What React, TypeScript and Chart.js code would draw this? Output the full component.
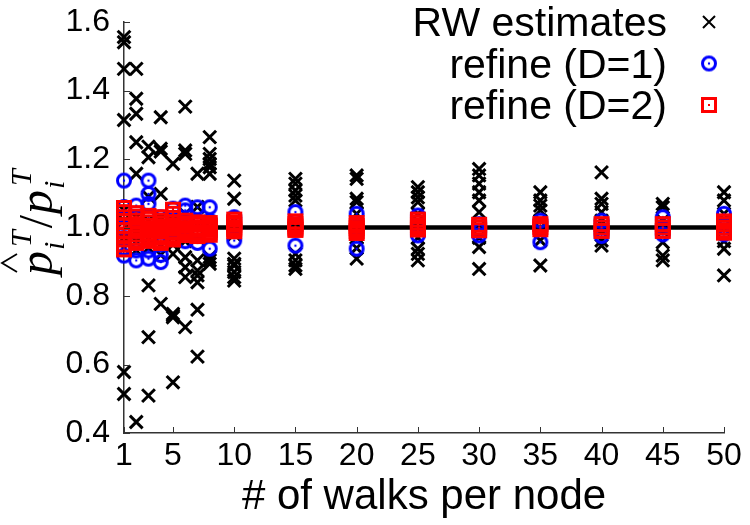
import { useEffect, useRef } from 'react';
import { Chart, registerables } from 'chart.js';

Chart.register(...registerables);

// Number of random walks started per node (x positions of the point columns)
const walksPerNode = [1, 2, 3, 4, 5, 6, 7, 8, 10, 15, 20, 25, 30, 35, 40, 45, 50];

// Ratio of estimated to true stationary probability, one list per column
const rwEstimates: number[][] = [
  [1.556, 1.541, 1.463, 1.314, 1.05, 1.02, 0.97, 0.94, 0.578, 0.514],
  [1.463, 1.376, 1.332, 1.249, 1.157, 1.03, 0.99, 0.96, 0.933, 0.432],
  [1.236, 1.205, 1.09, 1.02, 0.97, 0.94, 0.831, 0.68, 0.509],
  [1.322, 1.23, 1.222, 1.098, 1.03, 0.98, 0.95, 0.92, 0.777],
  [1.186, 1.02, 0.98, 0.95, 0.923, 0.748, 0.743, 0.738, 0.548],
  [1.353, 1.225, 1.215, 1.04, 0.99, 0.96, 0.913, 0.884, 0.855, 0.709],
  [1.157, 1.06, 1.01, 0.97, 0.904, 0.874, 0.86, 0.84, 0.76, 0.623],
  [1.264, 1.215, 1.2, 1.186, 1.176, 1.157, 1.0, 0.913, 0.904, 0.894],
  [1.137, 1.084, 1.02, 0.98, 0.909, 0.894, 0.889, 0.87, 0.855, 0.845],
  [1.142, 1.128, 1.108, 1.093, 1.079, 1.0, 0.923, 0.904, 0.889, 0.879],
  [1.152, 1.142, 1.084, 1.074, 1.04, 1.0, 0.97, 0.94, 0.909],
  [1.118, 1.103, 1.088, 1.074, 1.04, 1.0, 0.97, 0.938, 0.923, 0.904],
  [1.171, 1.152, 1.128, 1.103, 1.079, 1.045, 1.0, 0.97, 0.943, 0.879],
  [1.103, 1.079, 1.064, 1.05, 1.02, 0.99, 0.962, 0.889],
  [1.161, 1.084, 1.069, 1.045, 1.02, 0.99, 0.962, 0.947],
  [1.069, 1.059, 1.02, 0.99, 0.957, 0.918, 0.904],
  [1.103, 1.079, 1.04, 1.0, 0.96, 0.938, 0.86],
];

const refineD1: number[][] = [
  [1.137, 1.06, 1.03, 1.0, 0.97, 0.94, 0.918],
  [1.064, 1.03, 0.99, 0.96, 0.933, 0.904],
  [1.137, 1.098, 1.069, 1.03, 0.97, 0.933, 0.909],
  [1.03, 0.99, 0.95, 0.92, 0.899],
  [1.055, 1.02, 0.99, 0.967],
  [1.064, 1.05, 1.0, 0.96],
  [1.059, 1.02, 0.98, 0.955],
  [1.059, 1.02, 0.98, 0.938],
  [1.03, 1.0, 0.962],
  [1.045, 1.0, 0.947],
  [1.04, 1.0, 0.938],
  [1.035, 1.0, 0.977],
  [1.01, 0.99, 0.977],
  [1.02, 1.0, 0.957],
  [1.02, 0.99, 0.975],
  [1.03, 1.0, 0.98],
  [1.04, 1.0, 0.98],
];

const refineD2: number[][] = [
  [1.057, 1.045, 1.03, 1.018, 1.005, 0.992, 0.978, 0.965, 0.95, 0.936],
  [1.042, 1.032, 1.02, 1.01, 1.0, 0.99, 0.98, 0.97, 0.962, 0.955],
  [1.034, 1.025, 1.015, 1.005, 0.998, 0.99, 0.982, 0.975, 0.968, 0.961],
  [1.03, 1.02, 1.012, 1.004, 0.996, 0.988, 0.978, 0.97, 0.962, 0.955],
  [1.052, 1.04, 1.028, 1.016, 1.006, 0.996, 0.987, 0.978, 0.97, 0.965],
  [1.02, 1.012, 1.005, 0.998, 0.99, 0.984, 0.978],
  [1.015, 1.008, 1.0, 0.993, 0.986, 0.98, 0.975],
  [1.013, 1.006, 1.0, 0.993, 0.986, 0.979],
  [1.023, 1.015, 1.008, 1.0, 0.995, 0.989],
  [1.018, 1.01, 1.003, 0.997, 0.993],
  [1.013, 1.005, 0.998, 0.99, 0.984],
  [1.023, 1.015, 1.007, 1.0, 0.994],
  [1.008, 1.0, 0.992],
  [1.01, 1.002, 0.995],
  [1.01, 1.0, 0.99],
  [1.01, 1.0, 0.99],
  [1.018, 1.01, 1.0, 0.992, 0.985],
];

const xTickValues = [1, 5, 10, 15, 20, 25, 30, 35, 40, 45, 50];
const yTickValues = [0.4, 0.6, 0.8, 1.0, 1.2, 1.4, 1.6];
const seriesNames = ['RW estimates', 'refine (D=1)', 'refine (D=2)'];
const referenceLevel = 1.0;

const SANS = '"Liberation Sans", Arial, Helvetica, sans-serif';
const SERIF = '"Liberation Serif", "Times New Roman", serif';

function toPoints(values: number[][]) {
  return walksPerNode.flatMap((w, i) => values[i].map((v) => ({ x: w, y: v })));
}

// Hollow circle with a centre dot
function circleMarker(): HTMLCanvasElement {
  const c = document.createElement('canvas');
  c.width = 20;
  c.height = 20;
  const g = c.getContext('2d')!;
  g.strokeStyle = '#0000ff';
  g.fillStyle = '#0000ff';
  g.lineWidth = 3;
  g.beginPath();
  g.arc(10, 10, 6.5, 0, Math.PI * 2);
  g.stroke();
  g.beginPath();
  g.arc(10, 10, 1.2, 0, Math.PI * 2);
  g.fill();
  return c;
}

// Hollow square with a centre dot
function squareMarker(): HTMLCanvasElement {
  const c = document.createElement('canvas');
  c.width = 20;
  c.height = 20;
  const g = c.getContext('2d')!;
  g.strokeStyle = '#ff0000';
  g.fillStyle = '#ff0000';
  g.lineWidth = 3;
  g.strokeRect(3.5, 3.5, 13, 13);
  g.fillRect(9, 9, 2, 2);
  return c;
}

function drawCross(ctx: CanvasRenderingContext2D, x: number, y: number, h: number, lw: number) {
  ctx.save();
  ctx.strokeStyle = '#000';
  ctx.lineWidth = lw;
  ctx.beginPath();
  ctx.moveTo(x - h, y - h);
  ctx.lineTo(x + h, y + h);
  ctx.moveTo(x - h, y + h);
  ctx.lineTo(x + h, y - h);
  ctx.stroke();
  ctx.restore();
}

// Rotated y-axis label: p-hat_i^T / p_i^T
function drawRatioLabel(ctx: CanvasRenderingContext2D) {
  ctx.save();
  ctx.translate(52, 275);
  ctx.rotate(-Math.PI / 2);
  ctx.fillStyle = '#000';
  ctx.strokeStyle = '#000';
  ctx.textBaseline = 'alphabetic';
  ctx.textAlign = 'left';
  const main = `italic 48px ${SERIF}`;
  const script = `italic 30px ${SERIF}`;
  let x = 0;
  const term = (withHat: boolean) => {
    ctx.font = main;
    ctx.fillText('p', x, 0);
    const pw = ctx.measureText('p').width;
    if (withHat) {
      ctx.lineWidth = 1.8;
      ctx.beginPath();
      ctx.moveTo(x + 3, -35);
      ctx.lineTo(x + 12, -50);
      ctx.lineTo(x + 21, -35);
      ctx.stroke();
    }
    x += pw + 1;
    ctx.font = script;
    ctx.fillText('T', x + 3, -21);
    ctx.fillText('i', x, 12);
    x += Math.max(ctx.measureText('T').width + 3, ctx.measureText('i').width) + 2;
  };
  term(true);
  ctx.font = `48px ${SERIF}`;
  ctx.fillText('/', x, 0);
  x += ctx.measureText('/').width + 1;
  term(false);
  ctx.restore();
}

export default function App() {
  const canvasRef = useRef<HTMLCanvasElement | null>(null);

  useEffect(() => {
    const canvas = canvasRef.current;
    if (!canvas) return;
    const circle = circleMarker();
    const square = squareMarker();

    const decorations = {
      id: 'decorations',
      afterDraw(chart: any) {
        const { ctx, chartArea, scales } = chart;
        ctx.save();
        // inward tick marks
        ctx.strokeStyle = '#333';
        ctx.lineWidth = 1;
        xTickValues.forEach((v) => {
          const px = Math.round(scales.x.getPixelForValue(v)) + 0.5;
          ctx.beginPath();
          ctx.moveTo(px, chartArea.bottom);
          ctx.lineTo(px, chartArea.bottom - 6);
          ctx.stroke();
        });
        yTickValues.forEach((v) => {
          const py = Math.round(scales.y.getPixelForValue(v)) + 0.5;
          ctx.beginPath();
          ctx.moveTo(chartArea.left, py);
          ctx.lineTo(chartArea.left + 6, py);
          ctx.stroke();
        });

        // key, text right-aligned with the sample to its right
        const textRight = 667;
        const sampleX = 709;
        const rows = [22, 63.5, 105];
        ctx.fillStyle = '#000';
        ctx.font = `41px ${SANS}`;
        ctx.textAlign = 'right';
        ctx.textBaseline = 'alphabetic';
        seriesNames.forEach((name, i) => {
          ctx.fillText(name, textRight, rows[i] + 14);
        });
        drawCross(ctx, sampleX, rows[0], 6, 2);
        ctx.drawImage(circle, sampleX - 10, rows[1] - 10);
        ctx.drawImage(square, sampleX - 10, rows[2] - 10);
        ctx.restore();

        drawRatioLabel(ctx);
      },
    };

    const chart = new Chart(canvas, {
      type: 'scatter',
      data: {
        datasets: [
          {
            label: 'reference',
            data: [
              { x: walksPerNode[0], y: referenceLevel },
              { x: walksPerNode[walksPerNode.length - 1], y: referenceLevel },
            ],
            showLine: true,
            borderColor: '#000',
            borderWidth: 4.5,
            pointRadius: 0,
            order: 4,
          },
          {
            label: seriesNames[0],
            data: toPoints(rwEstimates),
            pointStyle: 'crossRot',
            pointRadius: 9,
            borderColor: '#000',
            backgroundColor: '#000',
            borderWidth: 3,
            clip: false,
            order: 3,
          },
          {
            label: seriesNames[1],
            data: toPoints(refineD1),
            pointStyle: circle,
            pointRadius: 7,
            clip: false,
            order: 2,
          },
          {
            label: seriesNames[2],
            data: toPoints(refineD2),
            pointStyle: square,
            pointRadius: 7,
            clip: false,
            order: 1,
          },
        ] as any,
      },
      options: {
        animation: false,
        responsive: false,
        maintainAspectRatio: false,
        devicePixelRatio: 1,
        events: [],
        layout: { padding: { left: 0, right: 26, top: 22, bottom: 0 } },
        plugins: {
          legend: { display: false },
          tooltip: { enabled: false },
        },
        scales: {
          x: {
            type: 'linear',
            min: 1,
            max: 50,
            afterBuildTicks: (s: any) => {
              s.ticks = xTickValues.map((v) => ({ value: v }));
            },
            afterFit: (s: any) => {
              s.height = 92;
              s.paddingLeft = 0;
              s.paddingRight = 0;
            },
            grid: { display: false, drawTicks: false },
            border: { display: true, color: '#333', width: 1.5 },
            ticks: {
              padding: 4,
              color: '#000',
              autoSkip: false,
              maxRotation: 0,
              font: { family: SANS, size: 32 },
            },
            title: {
              display: true,
              text: '# of walks per node',
              color: '#000',
              font: { family: SANS, size: 42 },
              padding: { top: 0, bottom: 2 },
            },
          },
          y: {
            type: 'linear',
            min: 0.4,
            max: 1.6,
            afterBuildTicks: (s: any) => {
              s.ticks = yTickValues.map((v) => ({ value: v }));
            },
            afterFit: (s: any) => {
              s.width = 124;
              s.paddingTop = 0;
              s.paddingBottom = 0;
            },
            grid: { display: false, drawTicks: false },
            border: { display: true, color: '#333', width: 1.5 },
            ticks: {
              padding: 14,
              color: '#000',
              font: { family: SANS, size: 32 },
              callback: (v: any) => Number(v).toFixed(1),
            },
          },
        },
      },
      plugins: [decorations],
    });

    return () => chart.destroy();
  }, []);

  return (
    <div style={{ position: 'fixed', left: 0, top: 0, width: 750, height: 525, background: '#fff' }}>
      <canvas ref={canvasRef} width={750} height={525} style={{ display: 'block' }} />
    </div>
  );
}
